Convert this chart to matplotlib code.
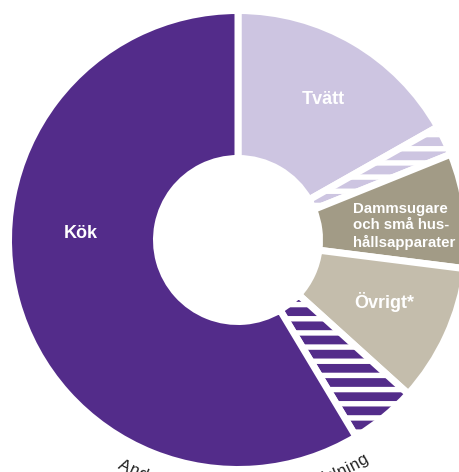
import numpy as np
import matplotlib.pyplot as plt
from matplotlib.textpath import TextToPath
from matplotlib.font_manager import FontProperties

W, H, DPI = 459, 472, 85
plt.rcParams['font.family'] = ['Liberation Sans', 'DejaVu Sans']
plt.rcParams['hatch.linewidth'] = 4.6

# shares of the ring, clockwise from 12 o'clock
labels = ['Tvätt', '', 'Dammsugare\noch små hus-\nhållsapparater', 'Övrigt*', '', 'Kök']
shares = [16.8, 2.1, 8.1, 9.7, 4.7, 58.6]
colors = ['#cdc5e1', '#cdc5e1', '#a29b86', '#c4bdac', '#532c8a', '#532c8a']
hatches = ['', '-', '', '', '-', '']
caption = 'Andel av elanvändning, fördelning'


def pt(px):
    return px * 72 / DPI


fig = plt.figure(figsize=(W / DPI, H / DPI), dpi=DPI)
ax = fig.add_axes([0, 0, 1, 1])

cx, cy = 238, H - 240
r_out, r_in, gap = 226, 85, 7
ax.pie(shares, colors=colors, hatch=hatches, startangle=90, counterclock=False,
       center=(cx, cy), radius=r_out + gap / 2,
       wedgeprops=dict(width=r_out - r_in + gap, edgecolor='white',
                       linewidth=pt(gap)))

ax.set_xlim(0, W)
ax.set_ylim(0, H)
ax.set_aspect('equal')
ax.axis('off')

# labels inside the ring (pixel positions, y from top)
spots = {'Tvätt': (323, 100, 'center', 18),
         'Dammsugare\noch små hus-\nhållsapparater': (353, 226, 'left', 15),
         'Övrigt*': (384, 302, 'center', 18),
         'Kök': (81, 233, 'center', 18)}
for lab in labels:
    if not lab:
        continue
    x, y, ha, fs = spots[lab]
    ax.text(x, H - y, lab, ha=ha, va='center', color='white',
            fontsize=pt(fs), fontweight='bold', linespacing=1.17)

# caption bent along the bottom of the ring
fs = 17
fp = FontProperties(family='Liberation Sans', size=100)
t2p = TextToPath()


def width(s):
    return (t2p.get_text_width_height_descent(s + 'x', fp, ismath=False)[0]
            - t2p.get_text_width_height_descent('x', fp, ismath=False)[0]) / 100 * fs * 1.03


R = 258
total = width(caption)
start = -total / 2 + 6
for i, ch in enumerate(caption):
    s = start + width(caption[:i]) + width(ch) / 2
    th = s / R
    ax.text(cx + R * np.sin(th), cy - R * np.cos(th), ch, fontsize=pt(fs),
            color='#222222', ha='center', va='baseline',
            rotation=np.degrees(th), rotation_mode='anchor')

fig.savefig('out.png', dpi=DPI)
